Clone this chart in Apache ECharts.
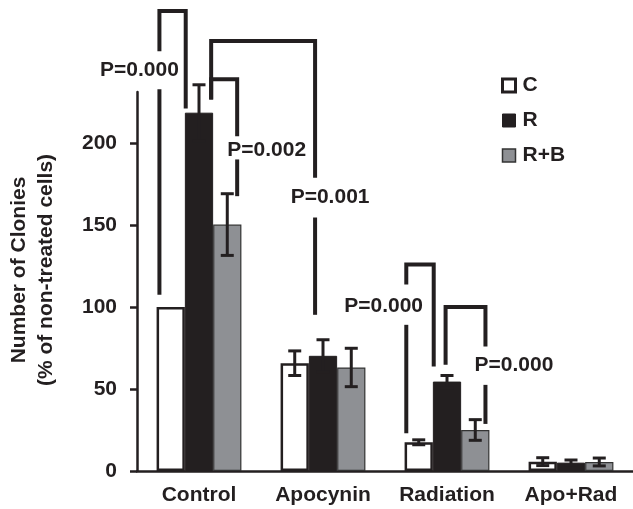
<!DOCTYPE html>
<html>
<head>
<meta charset="utf-8">
<style>html,body{margin:0;padding:0;background:#fff}#c{width:633px;height:509px}</style>
<script src="https://cdn.jsdelivr.net/npm/echarts@6/dist/echarts.min.js"></script>
</head>
<body>
<div id="c"></div>
<script>
// ---- data ----
const categories = ['Control', 'Apocynin', 'Radiation', 'Apo+Rad'];
const seriesNames = ['C', 'R', 'R+B'];
const valuesC = [100, 65.7, 17.5, 5.7];
const errC = [0, 7.5, 1.5, 2.4];
const valuesR = [218.4, 70.2, 54.5, 5.1];
const errR = [17, 9.8, 3.7, 1.6];
const valuesRB = [150.2, 63.1, 25.0, 5.5];
const errRB = [18.8, 11.7, 6.3, 2.4];
const yTicks = [0, 50, 100, 150, 200];
const yAxisTitle = 'Number of Clonies\n(% of non-treated cells)';

// significance brackets: [category, seriesIndex] endpoints, heights in data units
const bracketLabels = ['P=0.000', 'P=0.002', 'P=0.001', 'P=0.000', 'P=0.000'];
const bracketFrom = [[0, 0], [0, 1], [0, 1], [2, 0], [2, 1]];
const bracketTo = [[0, 1], [0, 2], [1, 1], [2, 1], [2, 2]];
const bracketTop = [280.4, 238.7, 262.1, 125.8, 99.9];
const bracketFromEnd = [107.4, 226.5, 226.5, 23, 64.7];
const bracketToEnd = [221, 167.5, 95.2, 63.7, 28.7];
const bracketLabelSide = ['from', 'to', 'to', 'from', 'to'];
const bracketLabelValue = [244.3, 195.7, 166.7, 100.7, 64.7];
const bracketGapHi = [255.8, 204.1, 178.7, 113.6, 75.9];
const bracketGapLo = [232.6, 189.9, 154.5, 89.1, 52.5];

// ---- layout / style ----
const BAR_FRAC = 0.228;
const legFracFrom = [0.1, 0.93, 0.93, 0.06, 0.45];
const legFracTo = [0.03, 0.85, 0.22, 0.03, 0.86];
const labelDx = [-20, 29.5, 15, -22.7, 28.5];
const INK = '#231f20';
const GRAY = '#8e9094';
const FONT = 'Liberation Sans, Arial, Helvetica, sans-serif';
const FS = 21;

function slotX(api, cat, slot, frac) {
  const c = api.coord([cat, 0])[0];
  const bw = api.size([1, 0])[0];
  const bar = bw * BAR_FRAC;
  return c - 1.5 * bar + slot * bar + frac * bar;
}

function errorSeries(slot, vals, errs) {
  return {
    type: 'custom',
    name: seriesNames[slot] + '_err',
    clip: false,
    z: 5,
    silent: true,
    encode: {x: 0, y: 1},
    data: categories.map((c, i) => [i, vals[i], errs[i]]),
    renderItem: function (params, api) {
      const i = api.value(0), v = api.value(1), e = api.value(2);
      if (!e) return {type: 'group', children: []};
      const x = slotX(api, i, slot, 0.5);
      const yt = api.coord([i, v + e])[1];
      const yb = api.coord([i, v - e])[1];
      const hw = 6.5;
      const st = {stroke: INK, lineWidth: 3};
      return {
        type: 'group',
        children: [
          {type: 'line', shape: {x1: x, y1: yt, x2: x, y2: yb}, style: st},
          {type: 'line', shape: {x1: x - hw, y1: yt, x2: x + hw, y2: yt}, style: st},
          {type: 'line', shape: {x1: x - hw, y1: yb, x2: x + hw, y2: yb}, style: st}
        ]
      };
    }
  };
}

const bracketSeries = {
  type: 'custom',
  name: 'brackets',
  clip: false,
  z: 6,
  silent: true,
  encode: {x: 0, y: 1},
  data: bracketLabels.map((l, k) => [bracketFrom[k][0], bracketFromEnd[k]]),
  renderItem: function (params, api) {
    const k = params.dataIndex;
    const xl = slotX(api, bracketFrom[k][0], bracketFrom[k][1], legFracFrom[k]);
    const xr = slotX(api, bracketTo[k][0], bracketTo[k][1], legFracTo[k]);
    const y = v => api.coord([0, v])[1];
    const top = y(bracketTop[k]);
    const le = y(bracketFromEnd[k]);
    const re = y(bracketToEnd[k]);
    const gh = y(bracketGapHi[k]);
    const gl = y(bracketGapLo[k]);
    const st = {stroke: INK, lineWidth: 4, fill: null, lineJoin: 'miter', lineCap: 'butt'};
    let pts, seg, lx;
    if (bracketLabelSide[k] === 'from') {
      pts = [[xl, gh], [xl, top], [xr, top], [xr, re]];
      seg = {x1: xl, y1: gl, x2: xl, y2: le};
      lx = xl + labelDx[k];
    } else {
      pts = [[xl, le], [xl, top], [xr, top], [xr, gh]];
      seg = {x1: xr, y1: gl, x2: xr, y2: re};
      lx = xr + labelDx[k];
    }
    return {
      type: 'group',
      children: [
        {type: 'polyline', shape: {points: pts}, style: st},
        {type: 'line', shape: seg, style: st},
        {type: 'text', x: lx, y: y(bracketLabelValue[k]),
          style: {text: bracketLabels[k], fill: INK, font: 'bold ' + FS + 'px ' + FONT,
            align: 'center', verticalAlign: 'middle'}}
      ]
    };
  }
};

const chart = echarts.init(document.getElementById('c'), null, {renderer: 'canvas'});
chart.setOption({
  animation: false,
  backgroundColor: '#fff',
  grid: {left: 137, right: 0, top: 92, bottom: 38, containLabel: false},
  legend: {
    orient: 'vertical', left: 501, top: 75, padding: 0, itemWidth: 13, itemHeight: 13, itemGap: 14,
    icon: 'rect', selectedMode: false,
    textStyle: {fontFamily: FONT, fontWeight: 'bold', fontSize: FS, color: INK, padding: [0, 0, 0, 2]},
    data: [
      {name: 'C', itemStyle: {color: '#fff', borderColor: INK, borderWidth: 3}},
      {name: 'R', itemStyle: {color: INK, borderColor: INK, borderWidth: 1}},
      {name: 'R+B', itemStyle: {color: GRAY, borderColor: '#333', borderWidth: 1.5}}
    ]
  },
  graphic: [{
    type: 'text', x: 33, y: 270, rotation: Math.PI / 2,
    style: {text: yAxisTitle, fill: INK, font: 'bold ' + FS + 'px ' + FONT,
      align: 'center', verticalAlign: 'middle', lineHeight: 27}
  }],
  xAxis: {
    type: 'category', data: categories, boundaryGap: true,
    axisLine: {lineStyle: {color: INK, width: 2.5}},
    axisTick: {show: false},
    axisLabel: {interval: 0, color: INK, fontFamily: FONT, fontWeight: 'bold', fontSize: FS, margin: 14}
  },
  yAxis: {
    type: 'value', min: 0, max: 231,
    splitLine: {show: false},
    axisLine: {show: true, lineStyle: {color: INK, width: 2.5}},
    axisTick: {show: true, length: 7, lineStyle: {color: INK, width: 2.5}, customValues: yTicks},
    axisLabel: {color: INK, fontFamily: FONT, fontWeight: 'bold', fontSize: FS, margin: 20, customValues: yTicks}
  },
  series: [
    {name: 'C', type: 'bar', data: valuesC, barWidth: (BAR_FRAC * 100) + '%', barGap: '0%',
      itemStyle: {color: '#fff', borderColor: INK, borderWidth: 2.5}},
    {name: 'R', type: 'bar', data: valuesR, barWidth: (BAR_FRAC * 100) + '%', barGap: '0%',
      itemStyle: {color: INK, borderColor: INK, borderWidth: 1}},
    {name: 'R+B', type: 'bar', data: valuesRB, barWidth: (BAR_FRAC * 100) + '%', barGap: '0%',
      itemStyle: {color: GRAY, borderColor: '#333', borderWidth: 1.2}},
    errorSeries(0, valuesC, errC),
    errorSeries(1, valuesR, errR),
    errorSeries(2, valuesRB, errRB),
    bracketSeries
  ]
});
</script>
</body>
</html>
